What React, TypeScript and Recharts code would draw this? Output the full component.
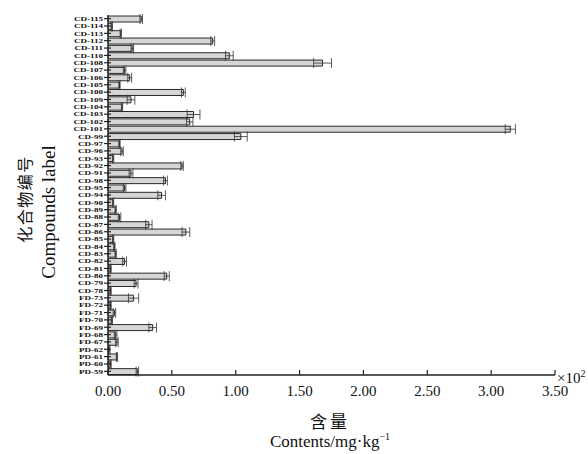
import { Bar, BarChart, ErrorBar, XAxis, YAxis, Label } from "recharts"

// compounds, top of the chart first
const compounds = [
  "CD-115", "CD-114", "CD-113", "CD-112", "CD-111", "CD-110", "CD-108", "CD-107",
  "CD-106", "CD-105", "CD-100", "CD-109", "CD-104", "CD-103", "CD-102", "CD-101",
  "CD-99", "CD-97", "CD-96", "CD-93", "CD-92", "CD-91", "CD-98", "CD-95",
  "CD-94", "CD-90", "CD-89", "CD-88", "CD-87", "CD-86", "CD-85", "CD-84",
  "CD-83", "CD-82", "CD-81", "CD-80", "CD-79", "CD-78", "FD-73", "FD-72",
  "FD-71", "FD-70", "FD-69", "FD-68", "FD-67", "PD-62", "PD-61", "PD-60", "PD-59",
]

// contents (x10^2 mg/kg)
const contents = [
  0.26, 0.03, 0.10, 0.82, 0.19, 0.95, 1.68, 0.13,
  0.17, 0.09, 0.59, 0.18, 0.11, 0.67, 0.64, 3.15,
  1.04, 0.09, 0.11, 0.04, 0.58, 0.18, 0.45, 0.13,
  0.42, 0.04, 0.06, 0.09, 0.32, 0.61, 0.04, 0.05,
  0.06, 0.13, 0.02, 0.46, 0.22, 0.02, 0.20, 0.02,
  0.05, 0.03, 0.35, 0.06, 0.07, 0.01, 0.07, 0.02, 0.23,
]

const errors = [
  0.01, 0.005, 0.005, 0.015, 0.01, 0.03, 0.07, 0.01,
  0.015, 0.005, 0.015, 0.03, 0.005, 0.05, 0.025, 0.04,
  0.05, 0.005, 0.01, 0.005, 0.01, 0.015, 0.015, 0.01,
  0.03, 0.005, 0.005, 0.01, 0.025, 0.03, 0.005, 0.005,
  0.005, 0.015, 0.005, 0.02, 0.015, 0.005, 0.04, 0.005,
  0.01, 0.005, 0.03, 0.01, 0.01, 0.005, 0.005, 0.005, 0.01,
]

const xTicks = [0, 0.5, 1, 1.5, 2, 2.5, 3, 3.5]

const data = compounds.map((name, i) => ({ name, value: contents[i], err: errors[i] }))

const serif = "'Liberation Serif', 'Times New Roman', serif"
const cjk = "'Noto Sans CJK SC', sans-serif"
const ink = "#222"

function YTick({ x, y, payload }: any) {
  // labels are squeezed vertically in the original, so stretch a small font sideways
  return (
    <g>
      <line x1={x - 4} x2={x + 3} y1={y} y2={y} stroke={ink} strokeWidth={1.2} />
      <text
        transform={`translate(${x - 5},${y}) scale(1.35,1)`}
        dy="0.34em"
        textAnchor="end"
        fontFamily={serif}
        fontWeight="bold"
        fontSize={6.7}
        fill="#111"
      >
        {payload.value}
      </text>
    </g>
  )
}

function XTick({ x, y, payload }: any) {
  return (
    <g>
      <line x1={x} x2={x} y1={y} y2={y - 5} stroke={ink} strokeWidth={1.2} />
      <text x={x} y={y + 21} textAnchor="middle" fontFamily={serif} fontSize={15} fill="#111">
        {payload.value.toFixed(2)}
      </text>
    </g>
  )
}

function XTitle({ viewBox }: any) {
  const { x, y, width } = viewBox
  const cx = 330
  return (
    <g fill="#111">
      <text x={x + width + 2} y={y + 8} fontFamily={serif} fontSize={15}>
        ×10<tspan dy={-6} fontSize={10}>2</tspan>
      </text>
      <text x={cx} y={y + 53} textAnchor="middle" fontFamily={cjk} fontSize={17} letterSpacing={3}>
        含量
      </text>
      <text x={cx} y={y + 72} textAnchor="middle" fontFamily={serif} fontSize={17}>
        Contents/mg·kg<tspan dy={-7} fontSize={10}>−1</tspan>
      </text>
    </g>
  )
}

function YTitle() {
  return (
    <g fill="#111">
      <text x={25} y={199} transform="rotate(-90 25 199)" dy="0.35em" textAnchor="middle" fontFamily={cjk} fontSize={16} letterSpacing={1.5}>
        化合物编号
      </text>
      <text x={48} y={212} transform="rotate(-90 48 212)" dy="0.35em" textAnchor="middle" fontFamily={serif} fontSize={19}>
        Compounds label
      </text>
    </g>
  )
}

export default function App() {
  return (
    <div style={{ position: "absolute", left: 0, top: 0, background: "#fff" }}>
      <BarChart
        width={588}
        height={454}
        data={data}
        layout="vertical"
        margin={{ top: 15, right: 33, bottom: 0, left: 0 }}
        barCategoryGap={1}
      >
        <XAxis
          type="number"
          domain={[0, 3.5]}
          ticks={xTicks}
          height={79}
          axisLine={{ stroke: ink, strokeWidth: 1.3 }}
          tickLine={false}
          tickSize={0}
          tickMargin={0}
          tick={<XTick />}
          interval={0}
        >
          <Label content={<XTitle />} />
        </XAxis>
        <YAxis
          type="category"
          dataKey="name"
          width={108}
          axisLine={{ stroke: ink, strokeWidth: 1.3 }}
          tickLine={false}
          tickSize={0}
          tickMargin={0}
          tick={<YTick />}
          interval={0}
        >
          <Label content={<YTitle />} />
        </YAxis>
        <Bar dataKey="value" fill="#d6d6d6" stroke="#2a2a2a" strokeWidth={1} barSize={6} isAnimationActive={false}>
          <ErrorBar dataKey="err" direction="x" width={5} stroke="#333" strokeWidth={0.8} />
        </Bar>
      </BarChart>
    </div>
  )
}
